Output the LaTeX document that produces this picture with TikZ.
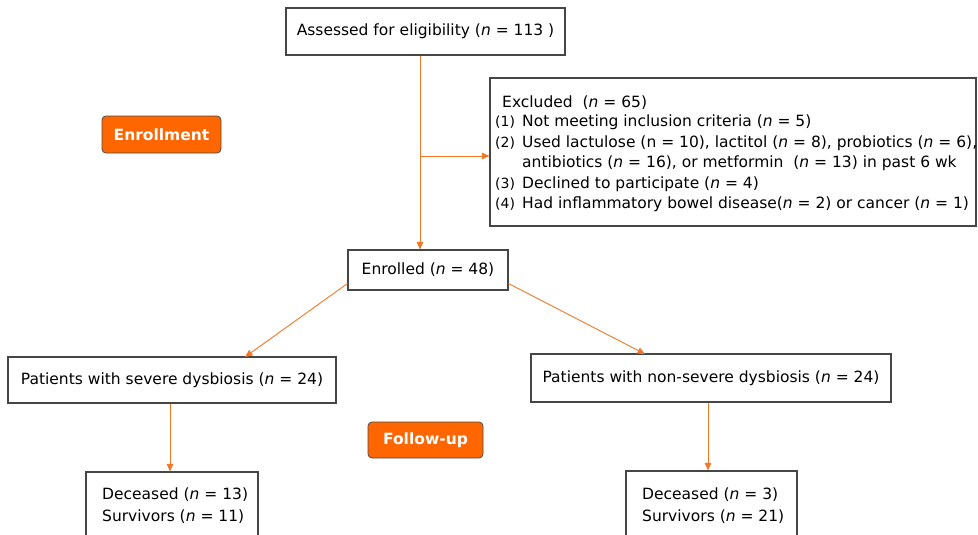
\documentclass[tikz,border=0pt]{standalone}
\usepackage{fontspec}
\setmainfont{DejaVu Sans}
\usetikzlibrary{arrows.meta,calc}
\definecolor{lineor}{RGB}{242,120,40}
\definecolor{tagor}{RGB}{255,102,0}
\definecolor{boxgray}{RGB}{70,70,70}
\begin{document}
\begin{tikzpicture}[x=1pt,y=-1pt,
  box/.style={draw=boxgray,line width=1.1pt,fill=white,inner sep=0pt,font=\fontsize{15.5}{18}\selectfont},
  tag/.style={draw=black!70,fill=tagor,rounded corners=4pt,line width=0.8pt,text=white,font=\fontsize{15.5}{18}\selectfont\bfseries,inner sep=0pt},
  arr/.style={draw=lineor,line width=0.9pt,-{Triangle[length=7.5pt,width=6.5pt]}},
  txt/.style={inner sep=0pt,anchor=base west,font=\fontsize{15.5}{18}\selectfont},
  num/.style={inner sep=0pt,anchor=base west,font=\fontsize{14}{16}\selectfont}]
\useasboundingbox (0,0) rectangle (978,535);
\fill[white] (0,0) rectangle (978,535);
% boxes
\node[box,minimum width=279pt,minimum height=47pt] (assess) at (425.5,31.5) {Assessed for eligibility (\textit{n} = 113 )};
\node[box,minimum width=486pt,minimum height=148pt] (excl) at (733,152) {};
\node[box,minimum width=160pt,minimum height=40pt] (enr) at (428,270) {Enrolled (\textit{n} = 48)};
\node[box,minimum width=328pt,minimum height=46pt] (sev) at (172,380) {Patients with severe dysbiosis (\textit{n} = 24)};
\node[box,minimum width=360pt,minimum height=48pt] (nsev) at (711,378) {Patients with non-severe dysbiosis (\textit{n} = 24)};
\node[box,minimum width=172pt,minimum height=80pt] (dec1) at (172,512) {};
\node[box,minimum width=171pt,minimum height=80pt] (dec2) at (711.5,511) {};
% tags
\node[tag,minimum width=119pt,minimum height=37pt] (enrtag) at (161.5,134.5) {Enrollment};
\node[tag,minimum width=115pt,minimum height=36pt] (futag) at (425.5,440) {Follow-up};
% excluded text
\node[txt] (ex0) at (502,107) {Excluded \ (\textit{n} = 65)};
\node[num] (ex1n) at (495,127) {(1)};
\node[txt] (ex1) at (522,127) {Not meeting inclusion criteria (\textit{n} = 5)};
\node[num] (ex2n) at (495,147.5) {(2)};
\node[txt] (ex2) at (522,147.5) {Used lactulose (n = 10), lactitol (\textit{n} = 8), probiotics (\textit{n} = 6),};
\node[txt] (ex2b) at (522,167.5) {antibiotics (\textit{n} = 16), or metformin \ (\textit{n} = 13) in past 6 wk};
\node[num] (ex3n) at (495,188) {(3)};
\node[txt] (ex3) at (522,188) {Declined to participate (\textit{n} = 4)};
\node[num] (ex4n) at (495,208.5) {(4)};
\node[txt] (ex4) at (522,208.5) {Had inflammatory bowel disease(\textit{n} = 2) or cancer (\textit{n} = 1)};
% deceased text
\node[txt] (d1a) at (102,499) {Deceased (\textit{n} = 13)};
\node[txt] (d1b) at (102,521) {Survivors (\textit{n} = 11)};
\node[txt] (d2a) at (642,499) {Deceased (\textit{n} = 3)};
\node[txt] (d2b) at (642,521) {Survivors (\textit{n} = 21)};
% connectors
\coordinate (branch) at (420,156);
\draw[arr] (assess.south -| branch) -- (enr.north -| branch);
\draw[arr] (branch) -- (branch -| excl.west);
\draw[arr] ($(enr.south west)+(0,-7)$) -- (245,357);
\draw[arr] ($(enr.south east)+(0,-7)$) -- (645,354);
\draw[arr] (sev.south -| 170,0) -- (dec1.north -| 170,0);
\draw[arr] (nsev.south -| 708,0) -- (dec2.north -| 708,0);
\end{tikzpicture}
\end{document}
